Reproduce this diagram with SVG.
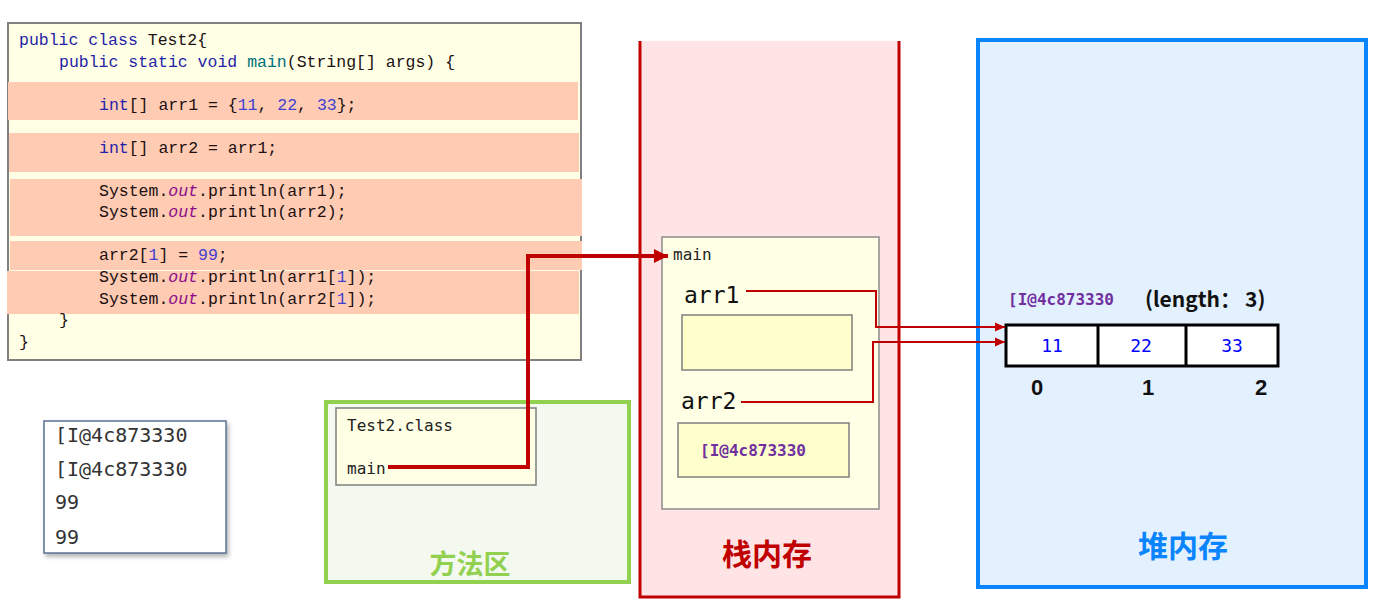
<svg xmlns="http://www.w3.org/2000/svg" width="1373" height="605" viewBox="0 0 1373 605">
<defs>
<style>
.code{font-family:"Liberation Mono","DejaVu Sans Mono",monospace;font-size:16.5px;fill:#201010}
.kw{fill:#1F1FA8}
.mt{fill:#00707A}
.num{fill:#3F3FD0}
.out{fill:#8A0A8A;font-style:italic}
.mono{font-family:"DejaVu Sans Mono","Liberation Mono",monospace}
.cjk{font-family:"Noto Sans CJK SC","Noto Sans",sans-serif;font-weight:bold}
.band{fill:#FFCBB3}
.addr{font-family:"DejaVu Sans Mono","Liberation Mono",monospace;font-weight:bold;font-size:16px;fill:#7030A0}
</style>
<marker id="ahBig" markerUnits="userSpaceOnUse" markerWidth="16" markerHeight="14" refX="14" refY="7" orient="auto">
<path d="M0,0 L14,7 L0,14 Z" fill="#C00000"/>
</marker>
<marker id="ahSmall" markerUnits="userSpaceOnUse" markerWidth="12" markerHeight="10" refX="10" refY="5" orient="auto">
<path d="M0,0.5 L10,5 L0,9.5 Z" fill="#C00000"/>
</marker>
<filter id="sh" x="-10%" y="-10%" width="125%" height="125%">
<feDropShadow dx="2" dy="3" stdDeviation="2" flood-color="#000" flood-opacity="0.3"/>
</filter>
</defs>

<g id="code">
<rect x="8" y="23" width="573" height="337" fill="#FFFFE6" stroke="#808080" stroke-width="2"/>
<rect class="band" x="8" y="82" width="570" height="38"/>
<rect class="band" x="9" y="133" width="570" height="39"/>
<rect class="band" x="10" y="179" width="572" height="57"/>
<rect class="band" x="10" y="241" width="572" height="29"/>
<rect class="band" x="7" y="271" width="572" height="43"/>
<text class="code" x="19" y="45"><tspan class="kw">public class</tspan> Test2{</text>
<text class="code" x="59" y="67"><tspan class="kw">public static void</tspan> <tspan class="mt">main</tspan>(String[] args) {</text>
<text class="code" x="99" y="110"><tspan class="kw">int</tspan>[] arr1 = {<tspan class="num">11</tspan>, <tspan class="num">22</tspan>, <tspan class="num">33</tspan>};</text>
<text class="code" x="99" y="153"><tspan class="kw">int</tspan>[] arr2 = arr1;</text>
<text class="code" x="99" y="196">System.<tspan class="out">out</tspan>.println(arr1);</text>
<text class="code" x="99" y="217">System.<tspan class="out">out</tspan>.println(arr2);</text>
<text class="code" x="99" y="260">arr2[<tspan class="num">1</tspan>] = <tspan class="num">99</tspan>;</text>
<text class="code" x="99" y="282">System.<tspan class="out">out</tspan>.println(arr1[<tspan class="num">1</tspan>]);</text>
<text class="code" x="99" y="304">System.<tspan class="out">out</tspan>.println(arr2[<tspan class="num">1</tspan>]);</text>
<text class="code" x="59" y="325">}</text>
<text class="code" x="19" y="347">}</text>
</g>

<g id="console">
<rect x="44" y="421" width="182" height="132" fill="#FFFFFF" stroke="#5A7090" stroke-width="1.5" filter="url(#sh)"/>
<g class="mono" font-size="20" fill="#333333">
<text x="55" y="442">[I@4c873330</text>
<text x="55" y="476">[I@4c873330</text>
<text x="55" y="509">99</text>
<text x="55" y="544">99</text>
</g>
</g>

<g id="method-area">
<rect x="326" y="402" width="303" height="180" fill="#F3F9EE" stroke="#92D050" stroke-width="4"/>
<rect x="336" y="408" width="200" height="77" fill="#FFFFE6" stroke="#7F7F7F" stroke-width="1.5"/>
<text class="mono" x="347" y="431" font-size="16" fill="#222">Test2.class</text>
<text class="mono" x="347" y="474" font-size="16" fill="#222">main</text>
<text class="cjk" x="470" y="574" font-size="27" fill="#92D050" text-anchor="middle">方法区</text>
</g>

<g id="stack">
<rect x="640" y="41" width="259" height="556" fill="#FFE4E6"/>
<path d="M640,41 V597 H899 V41" fill="none" stroke="#C00000" stroke-width="3"/>
<text class="cjk" x="767" y="565" font-size="30" fill="#C00000" text-anchor="middle">栈内存</text>
</g>

<g id="main-frame">
<rect x="662" y="237" width="217" height="272" fill="#FFFFE6" stroke="#8C8C8C" stroke-width="1.5"/>
<text class="mono" x="673" y="260" font-size="16" fill="#222">main</text>
<text class="mono" x="684" y="303" font-size="23" fill="#111">arr1</text>
<rect x="682" y="315" width="170" height="55" fill="#FFFFCC" stroke="#7F7F7F" stroke-width="1.5"/>
<text class="mono" x="681" y="409" font-size="23" fill="#111">arr2</text>
<rect x="678" y="423" width="171" height="54" fill="#FFFFCC" stroke="#7F7F7F" stroke-width="1.5"/>
<text class="addr" x="700" y="456">[I@4c873330</text>
</g>

<g id="heap">
<rect x="978" y="40" width="388" height="547" fill="#E3F1FE" stroke="#0A84FF" stroke-width="4"/>
<text class="cjk" x="1183" y="557" font-size="30" fill="#0A84FF" text-anchor="middle">堆内存</text>
<text class="addr" x="1008" y="305">[I@4c873330</text>
<text class="cjk" x="1145" y="307" font-size="21" fill="#111">(length：<tspan dx="4">3)</tspan></text>
</g>

<g id="array">
<rect x="1006" y="325" width="272" height="41" fill="#FFFFFF" stroke="#000" stroke-width="3"/>
<line x1="1098" y1="325" x2="1098" y2="366" stroke="#000" stroke-width="3"/>
<line x1="1186" y1="325" x2="1186" y2="366" stroke="#000" stroke-width="3"/>
<g class="mono" font-size="18" fill="#0000FF" text-anchor="middle">
<text x="1052" y="352">11</text>
<text x="1141" y="352">22</text>
<text x="1232" y="352">33</text>
</g>
<g font-family="'Liberation Sans','Noto Sans',sans-serif" font-weight="bold" font-size="22" fill="#111" text-anchor="middle">
<text x="1037" y="395">0</text>
<text x="1148" y="395">1</text>
<text x="1261" y="395">2</text>
</g>
</g>

<g id="connectors" fill="none" stroke="#C00000" stroke-linejoin="miter">
<path d="M388,467 H528 V256 H668" stroke-width="4" marker-end="url(#ahBig)"/>
<path d="M746,291 H876 V327 H1005" stroke-width="2" marker-end="url(#ahSmall)"/>
<path d="M741,402 H873 V342 H1005" stroke-width="2" marker-end="url(#ahSmall)"/>
</g>
</svg>
